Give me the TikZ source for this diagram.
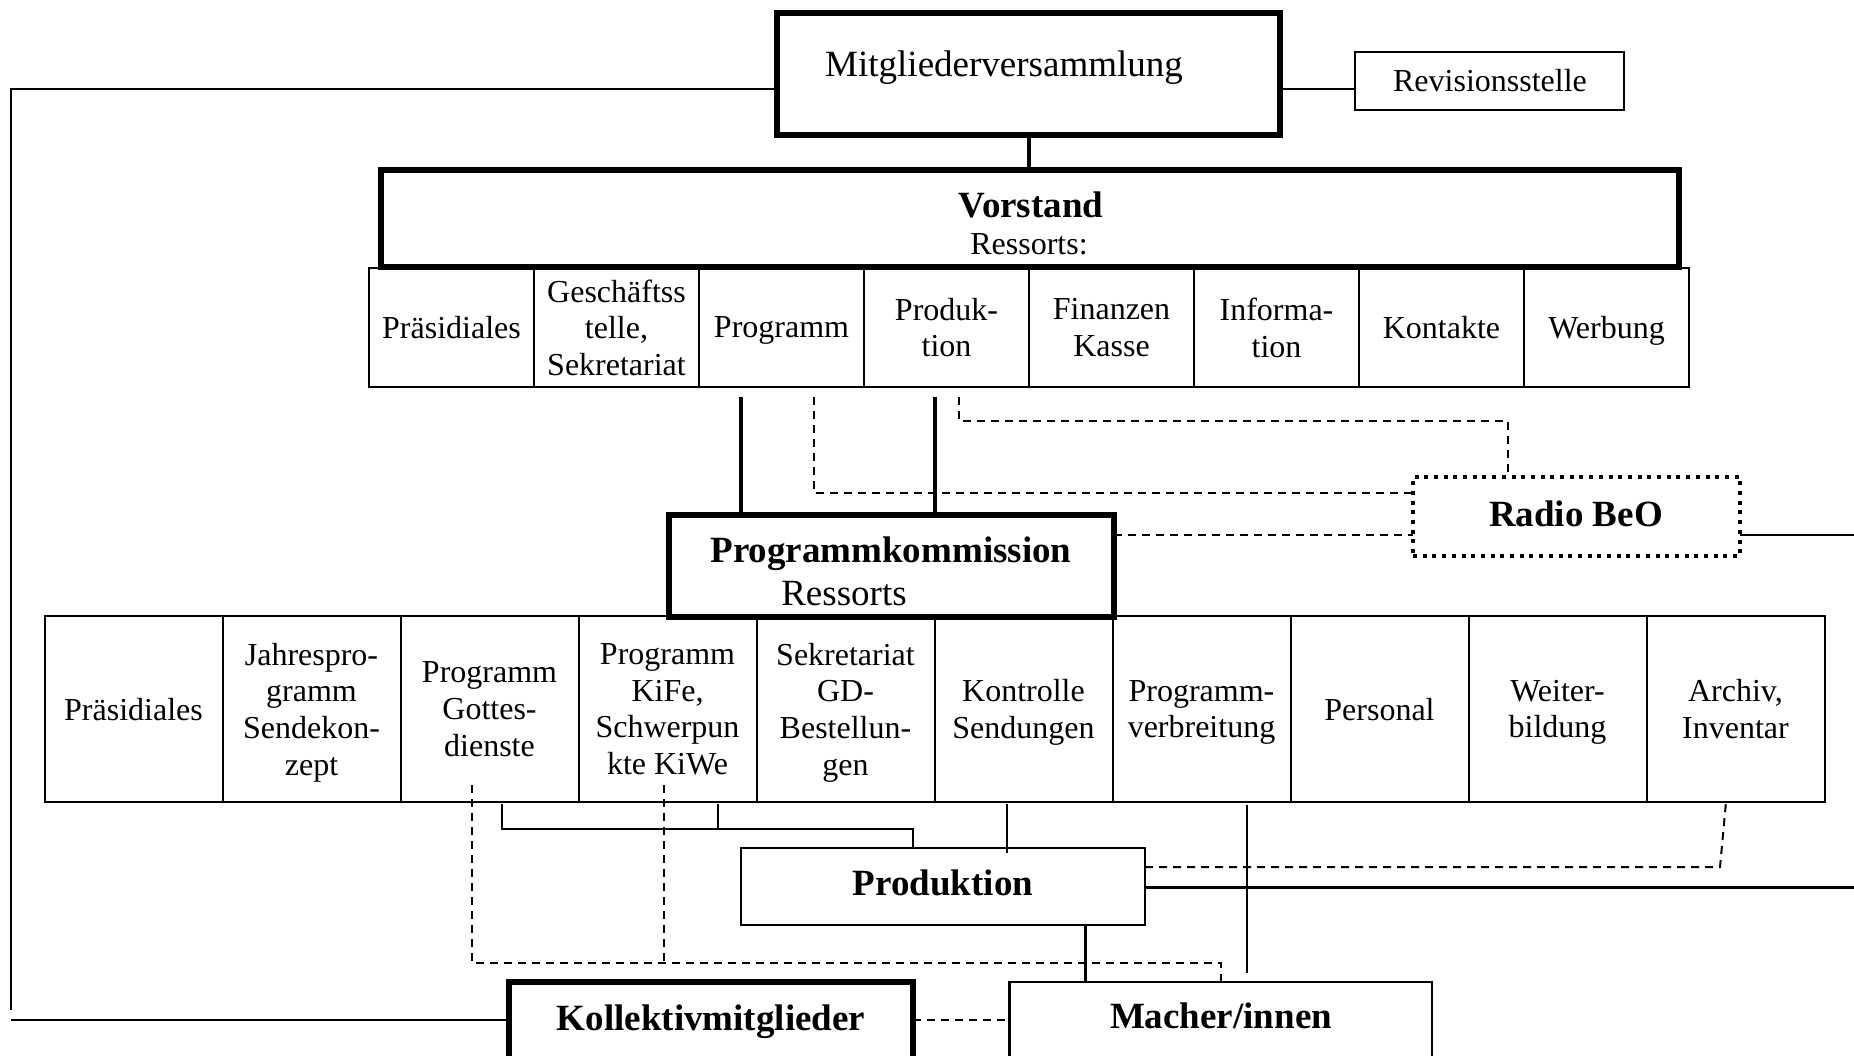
\documentclass[tikz,border=0pt]{standalone}
\usepackage{fontspec}
\setmainfont{Liberation Serif}
\newcommand\FontBig{\fontsize{37}{42}\selectfont}
\newcommand\FontCell{\fontsize{32}{36.6}\selectfont}
\begin{document}
\begin{tikzpicture}[x=1pt,y=-1pt,
  thickbox/.style={draw, line width=5.5pt, inner sep=0pt, outer sep=0pt, anchor=north west},
  thinbox/.style={draw, line width=2pt, inner sep=0pt, outer sep=0pt, anchor=north west},
  dotbox/.style={draw, line width=4pt, dash pattern=on 4pt off 5.7pt, inner sep=0pt, outer sep=0pt, anchor=north west},
  cellA/.style={draw, line width=2pt, inner sep=0pt, outer sep=0pt, align=center, font=\FontCell, text depth=0pt, minimum width=165pt, minimum height=119pt},
  cellB/.style={draw, line width=2pt, inner sep=0pt, outer sep=0pt, align=center, font=\FontCell, text depth=0pt, minimum width=178pt, minimum height=186pt},
  bigtext/.style={inner sep=0pt, font=\FontBig},
  boldtext/.style={inner sep=0pt, font=\FontBig\bfseries},
  conn/.style={line width=2pt},
  connthick/.style={line width=4pt},
  dashline/.style={line width=2pt, dash pattern=on 8pt off 6pt}
]
\useasboundingbox (0,0) rectangle (1854,1056);

% top boxes
\node[thickbox, minimum width=503pt, minimum height=122pt] (mv) at (777,13) {};
\node[bigtext, anchor=base] (mvt) at (1004,77) {Mitgliederversammlung};
\node[thinbox, minimum width=269pt, minimum height=58pt] (rv) at (1355,52) {};
\node[inner sep=0pt, font=\FontCell, anchor=base] (rvt) at (1490,92) {Revisionsstelle};

\node[thickbox, minimum width=1298pt, minimum height=97pt] (vs) at (381,170) {};
\node[boldtext, anchor=base] (vst) at (1031,218) {Vorstand};
\node[inner sep=0pt, font=\FontCell, anchor=base] (vsr) at (1029,255) {Ressorts:};

% Vorstand ressorts row
\node[cellA] (r1c1) at (451.5,327.5) {Präsidiales};
\node[cellA] (r1c2) at (616.5,327.5) {Geschäftss\\telle,\\Sekretariat};
\node[cellA] (r1c3) at (781.5,327.5) {Programm};
\node[cellA] (r1c4) at (946.5,327.5) {Produk-\\tion};
\node[cellA] (r1c5) at (1111.5,327.5) {Finanzen\\Kasse};
\node[cellA] (r1c6) at (1276.5,327.5) {Informa-\\tion};
\node[cellA] (r1c7) at (1441.5,327.5) {Kontakte};
\node[cellA] (r1c8) at (1606.5,327.5) {Werbung};

% Programmkommission ressorts row
\node[cellB] (r2c1) at (133.5,709) {Präsidiales};
\node[cellB] (r2c2) at (311.5,709) {Jahrespro-\\gramm\\Sendekon-\\zept};
\node[cellB] (r2c3) at (489.5,709) {Programm\\Gottes-\\dienste};
\node[cellB] (r2c4) at (667.5,709) {Programm\\KiFe,\\Schwerpun\\kte KiWe};
\node[cellB] (r2c5) at (845.5,709) {Sekretariat\\GD-\\Bestellun-\\gen};
\node[cellB] (r2c6) at (1023.5,709) {Kontrolle\\Sendungen};
\node[cellB] (r2c7) at (1201.5,709) {Programm-\\verbreitung};
\node[cellB] (r2c8) at (1379.5,709) {Personal};
\node[cellB] (r2c9) at (1557.5,709) {Weiter-\\bildung};
\node[cellB] (r2c10) at (1735.5,709) {Archiv,\\Inventar};

\node[thickbox, fill=white, minimum width=445pt, minimum height=102pt] (pk) at (669,515) {};
\node[boldtext, anchor=base] (pkt) at (891,562) {Programmkommission};
\node[bigtext, anchor=base] (pkr) at (844,605) {Ressorts};

\node[dotbox, minimum width=327pt, minimum height=79pt] (rb) at (1413,477) {};
\node[boldtext, anchor=base] (rbt) at (1576,526) {Radio BeO};

\node[thinbox, minimum width=404pt, minimum height=77pt] (pd) at (741,848) {};
\node[boldtext, anchor=base] (pdt) at (943,895) {Produktion};

\node[thickbox, minimum width=404pt, minimum height=130pt] (kol) at (509,982) {};
\node[boldtext, anchor=base] (kolt) at (711,1030) {Kollektivmitglieder};
\node[draw, line width=2.5pt, inner sep=0pt, outer sep=0pt, anchor=north west, minimum width=422.5pt, minimum height=130pt] (mc) at (1009.5,982) {};
\node[boldtext, anchor=base] (mct) at (1221,1028) {Macher/innen};

% free-end coordinates
\coordinate (lc1) at (11,89);
\coordinate (lc2) at (11,1010);
\coordinate (lc3) at (11,1020);
\coordinate (re1) at (1854,535);
\coordinate (re2) at (1854,887);

% connectors
\draw[connthick] (mv.south) -- (mv.south |- vs.north);
\draw[conn] (mv.east |- 0,89) -- (rv.west |- 0,89);
\draw[conn] (mv.west |- 0,89) -- (lc1) -- (lc2);
\draw[conn] (lc3) -- (kol.west |- 0,1020);

\draw[connthick, shorten <=10pt] (r1c3.south -| 741,0) -- (741,0 |- pk.north);
\draw[connthick, shorten <=10pt] (r1c4.south -| 935,0) -- (935,0 |- pk.north);
\draw[dashline, shorten <=10pt] (r1c3.south -| 814,0) -- (814,493) -- (rb.west |- 0,493);
\draw[dashline, shorten <=10pt] (r1c4.south -| 959,0) -- (959,421) -- (1508,421) -- (1508,0 |- rb.north);
\draw[dashline] (pk.east |- 0,535) -- (rb.west |- 0,535);
\draw[line width=2.5pt] (rb.east |- 0,535) -- (re1);

\draw[conn, shorten <=2pt] (r2c3.south -| 502,0) -- (502,829) -- (913,829) -- (913,0 |- pd.north);
\draw[conn, shorten <=2pt] (r2c4.south -| 718,0) -- (718,829);
\draw[conn, shorten <=2pt] (r2c6.south -| 1006.5,0) -- (1006.5,853);
\draw[conn, shorten <=3pt] (r2c7.south -| 1247,0) -- (1247,973);
\draw[line width=3pt] (pd.south -| 1085.6,0) -- (1085.6,0 |- mc.north);
\draw[line width=3pt] (pd.east |- 0,887) -- (re2);
\draw[dashline] (pd.east |- 0,867) -- (1720,867) -- (r2c10.south -| 1726,0);
\draw[dashline, shorten <=-17pt] (r2c3.south -| 472,0) -- (472,963) -- (1221,963) -- (mc.north -| 1221,0);
\draw[dashline, shorten <=-17pt] (r2c4.south -| 664,0) -- (664,963);
\draw[dashline] (kol.east |- 0,1020) -- (mc.west |- 0,1020);
\end{tikzpicture}
\end{document}
